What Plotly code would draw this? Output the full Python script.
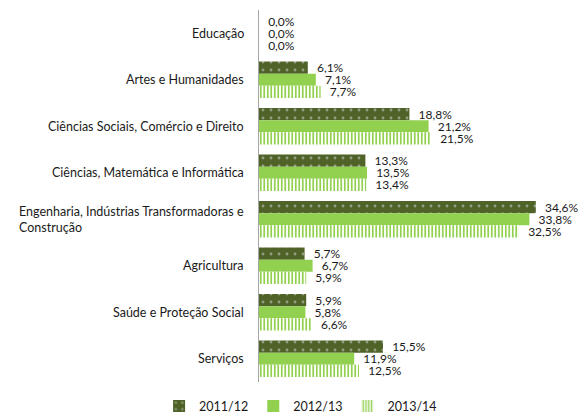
import plotly.graph_objects as go

categories = [
    "Educação",
    "Artes e Humanidades",
    "Ciências Sociais, Comércio e Direito",
    "Ciências, Matemática e Informática",
    "Engenharia, Indústrias Transformadoras e<br>Construção",
    "Agricultura",
    "Saúde e Proteção Social",
    "Serviços",
]
series_names = ["2011/12", "2012/13", "2013/14"]
v_2011_12 = [0.0, 6.1, 18.8, 13.3, 34.6, 5.7, 5.9, 15.5]
v_2012_13 = [0.0, 7.1, 21.2, 13.5, 33.8, 6.7, 5.8, 11.9]
v_2013_14 = [0.0, 7.7, 21.5, 13.4, 32.5, 5.9, 6.6, 12.5]

DARK = "#4F6228"
LIGHT = "#92D050"
FONT = "Lato"
TXT = "#1a1a1a"

patterns = [
    dict(shape=".", fillmode="overlay", fgcolor="#d9d9d9", size=8, solidity=0.1),
    None,
    dict(shape="|", fillmode="replace", fgcolor=LIGHT, bgcolor="white", size=3.5, solidity=0.5),
]
colors = [DARK, LIGHT, LIGHT]

fig = go.Figure()
for name, vals, col, pat in zip(series_names, [v_2011_12, v_2012_13, v_2013_14], colors, patterns):
    marker = dict(color=col, line=dict(width=0))
    if pat:
        marker["pattern"] = pat
    fig.add_trace(go.Bar(
        y=categories, x=vals, name=name, orientation="h",
        marker=marker,
        texttemplate="\u00a0\u00a0%{x:.1f}%", textposition="outside", cliponaxis=False,
        constraintext="none",
        textfont=dict(family=FONT, size=12, color=TXT),
    ))

# category labels as annotations so multi-line labels stay left-aligned
for cat in categories:
    fig.add_annotation(
        x=-0.04, xref="paper", y=cat, yref="y",
        text=cat, showarrow=False, xanchor="right", align="left",
        font=dict(family=FONT, size=12.5, color=TXT),
    )

fig.update_layout(
    width=579, height=414,
    margin=dict(l=259, r=0, t=10, b=32, autoexpand=False),
    paper_bgcolor="white", plot_bgcolor="white",
    separators=",.",
    barmode="group", bargap=0.22, bargroupgap=0,
    font=dict(family=FONT, size=12.5, color=TXT),
    xaxis=dict(range=[0, 40], visible=False),
    yaxis=dict(autorange="reversed", showticklabels=False, ticks="",
               showline=True, linecolor="#A6A6A6", linewidth=1, showgrid=False),
    legend=dict(orientation="h", x=0.13, xanchor="center",
                y=-0.025, yanchor="top",
                font=dict(family=FONT, size=12.5, color=TXT), itemwidth=30, tracegroupgap=0),
)

fig.write_html("out.html")
